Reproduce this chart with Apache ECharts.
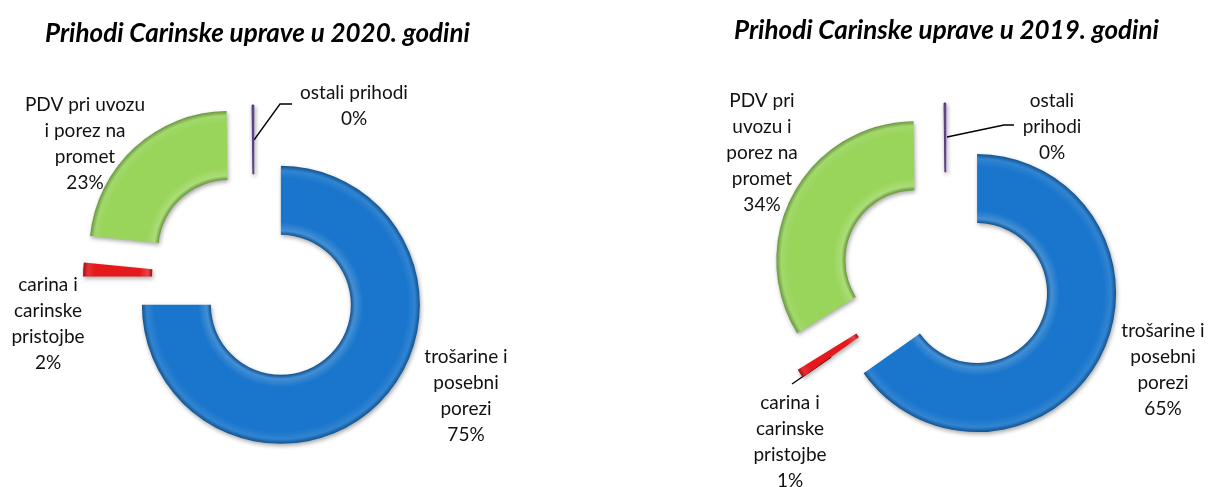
<!DOCTYPE html>
<html>
<head>
<meta charset="utf-8">
<script src="https://cdn.jsdelivr.net/npm/echarts@6/dist/echarts.min.js"></script>
<style>
  html, body { margin: 0; padding: 0; background: #fff; }
  #chart { width: 1213px; height: 487px; }
</style>
</head>
<body>
<div id="chart"></div>
<script>
// --- data ---
const titles = ['Prihodi Carinske uprave u 2020. godini', 'Prihodi Carinske uprave u 2019. godini']
const categories = ['trošarine i posebni porezi', 'carina i carinske pristojbe', 'PDV pri uvozu i porez na promet', 'ostali prihodi']
// label text, wrapped the way each chart shows it
const labels2020 = ['trošarine i\nposebni\nporezi', 'carina i\ncarinske\npristojbe', 'PDV pri uvozu\ni porez na\npromet', 'ostali prihodi']
const labels2019 = ['trošarine i\nposebni\nporezi', 'carina i\ncarinske\npristojbe', 'PDV pri\nuvozu i\nporez na\npromet', 'ostali\nprihodi']
const values2020 = [75.0, 1.6, 23.2, 0.2]
const values2019 = [65.2, 1.0, 33.6, 0.2]

const colors = ['#1a76cc', '#e5181c', '#98d55a', '#5a3c88']

// --- layout (px) ---
const R0 = 70, R1 = 139
const pies = [
  {
    center: [254, 278],
    explode: [38, 32, 38, 34],
    labelPos: [[466, 344], [48, 272], [85, 92], [354, 80]],
    lines: { 3: [[254, 140], [280, 104], [292, 104]] }
  },
  {
    center: [946, 277],
    explode: [35, 36, 35, 35],
    labelPos: [[1163, 318], [790, 390], [762, 88], [1052, 88]],
    lines: { 1: [[831, 357], [792, 384]], 3: [[947, 137], [1004, 125], [1014, 125]] }
  }
]

function mix (hex, target, t) {
  const c = echarts.color.parse(hex)
  const o = target === 'w' ? 255 : 0
  return 'rgb(' + c.slice(0, 3).map(v => Math.round(v + (o - v) * t)).join(',') + ')'
}

// fake bevel across the ring thickness
function bevel (color, cx, cy) {
  const k = R0 / R1
  return new echarts.graphic.RadialGradient(cx, cy, R1, [
    { offset: k, color: mix(color, 'b', 0.3) },
    { offset: k + 0.03, color: mix(color, 'w', 0.18) },
    { offset: k + 0.09, color: color },
    { offset: 0.91, color: color },
    { offset: 0.965, color: mix(color, 'w', 0.1) },
    { offset: 1, color: mix(color, 'b', 0.3) }
  ], true)
}

// one pie per slice so every slice can be pulled out on its own
function explodedPies (values, labels, p) {
  const total = values.reduce((a, b) => a + b, 0)
  let acc = 0
  return values.map((v, k) => {
    const mid = (acc + v / 2) / total * Math.PI * 2
    acc += v
    const cx = p.center[0] + p.explode[k] * Math.sin(mid)
    const cy = p.center[1] - p.explode[k] * Math.cos(mid)
    return {
      type: 'pie',
      center: [cx, cy],
      radius: [R0, R1],
      startAngle: 90,
      clockwise: true,
      avoidLabelOverlap: false,
      animation: false,
      silent: true,
      label: {
        position: 'outside',
        fontFamily: 'Lato',
        fontSize: 19,
        lineHeight: 26,
        color: '#111',
        align: 'center',
        formatter: params => labels[params.dataIndex] + '\n' + Math.round(params.percent) + '%'
      },
      labelLine: { length: 10, length2: 10, minTurnAngle: 0, lineStyle: { color: '#000', width: 1.3 } },
      labelLayout: params => {
        const pos = p.labelPos[params.dataIndex]
        const out = { x: pos[0], y: pos[1], align: 'center', verticalAlign: 'top' }
        if (p.lines[params.dataIndex]) out.labelLinePoints = p.lines[params.dataIndex]
        return out
      },
      data: values.map((w, i) => ({
        name: categories[i],
        value: w,
        label: { show: i === k },
        labelLine: { show: i === k && !!p.lines[i] },
        itemStyle: i === k ? {
          color: bevel(colors[i], cx, cy),
          borderWidth: i === 3 ? 1 : 0,
          borderColor: colors[i],
          shadowBlur: 4,
          shadowOffsetX: 1,
          shadowOffsetY: 2,
          shadowColor: 'rgba(0,0,0,0.35)'
        } : { color: 'rgba(0,0,0,0)', borderWidth: 0 }
      }))
    }
  })
}

const chart = echarts.init(document.getElementById('chart'))
const titleStyle = { fontFamily: 'Lato', fontSize: 26, fontWeight: 'bold', fontStyle: 'italic', color: '#000' }

chart.setOption({
  backgroundColor: '#fff',
  title: [
    { text: titles[0], left: 40, top: 16, textStyle: titleStyle },
    { text: titles[1], left: 729, top: 13, textStyle: titleStyle }
  ],
  series: explodedPies(values2020, labels2020, pies[0])
    .concat(explodedPies(values2019, labels2019, pies[1]))
})
</script>
</body>
</html>
